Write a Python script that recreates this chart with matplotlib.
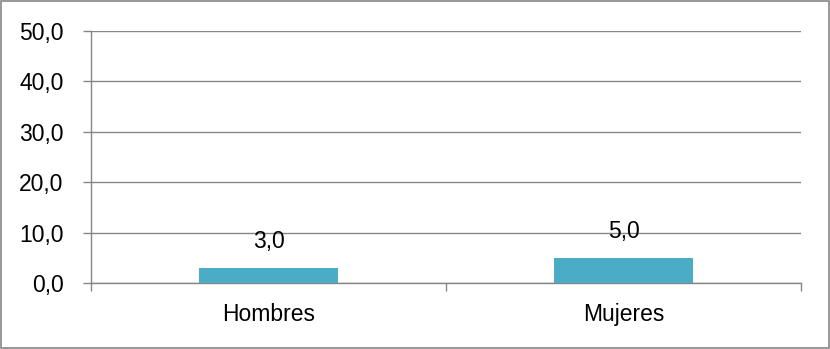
import matplotlib
matplotlib.use("Agg")
import matplotlib.pyplot as plt
from matplotlib.patches import Rectangle
import matplotlib.patheffects as pe

# datos
categorias = ["Hombres", "Mujeres"]
valores = [3.0, 5.0]
ticks_y = [0, 10, 20, 30, 40, 50]

plt.rcParams['font.family'] = ['Liberation Sans', 'DejaVu Sans']
tam = 16.5

fig = plt.figure(figsize=(8.3, 3.49), dpi=100)
ax = fig.add_axes([91 / 830, 1 - 283 / 349, 710 / 830, 252 / 349])

gris = "#868686"
x = list(range(len(categorias)))
barras = ax.bar(x, valores, width=0.394, color="#4BACC6", zorder=3)
for b in barras:
    b.set_path_effects([pe.SimplePatchShadow(offset=(0, -1.5), shadow_rgbFace="#b0b0b0", alpha=0.6),
                        pe.Normal()])

# etiquetas de valor
for xi, v in zip(x, valores):
    ax.annotate(f"{v:.1f}".replace(".", ","), (xi, v), xytext=(0, 20),
                textcoords="offset pixels", ha="center", va="baseline",
                fontsize=tam, zorder=4)

ax.set_xlim(-0.5, len(categorias) - 0.5)
ax.set_ylim(0, 50)
ax.set_yticks(ticks_y)
ax.set_yticklabels([f"{t:.1f}".replace(".", ",") for t in ticks_y])
ax.yaxis.grid(True, color=gris, linewidth=1)
ax.set_axisbelow(True)

# marcas del eje x entre categorías
ax.set_xticks([-0.5, 0.5, 1.5], minor=True)
ax.set_xticks(x)
ax.set_xticklabels(categorias)
ax.tick_params(axis="x", which="major", length=0, pad=14.5, labelsize=tam)
ax.tick_params(axis="x", which="minor", length=5.5, color=gris, width=1)
ax.tick_params(axis="y", length=5.8, color=gris, width=1, pad=14, labelsize=tam)

for lado in ["top", "right"]:
    ax.spines[lado].set_visible(False)
for lado in ["left", "bottom"]:
    ax.spines[lado].set_color(gris)
    ax.spines[lado].set_linewidth(1)

# borde exterior
fig.patches.append(Rectangle((0.001, 0.002), 0.998, 0.996, transform=fig.transFigure,
                             fill=False, edgecolor=gris, linewidth=1.2))

fig.savefig("out.png", dpi=100)
